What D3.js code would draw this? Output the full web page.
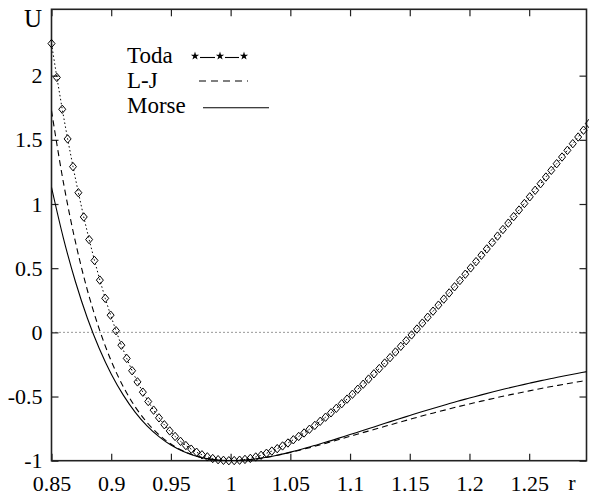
<!DOCTYPE html>
<html><head><meta charset="utf-8">
<script src="https://cdn.jsdelivr.net/npm/d3@7"></script>
<style>
html,body{margin:0;padding:0;background:#fff;}
svg, svg text{font-family:'Liberation Serif','Times New Roman','DejaVu Serif',serif !important;}
</style></head>
<body>
<script>
// ---- data ----
const xTickValues = [0.85,0.9,0.95,1,1.05,1.1,1.15,1.2,1.25];
const xTickLabels = ["0.85","0.9","0.95","1","1.05","1.1","1.15","1.2","1.25"];
const yTickValues = [-1,-0.5,0,0.5,1,1.5,2];
const yTickLabels = ["-1","-0.5","0","0.5","1","1.5","2"];

const rCurve = [0.85,0.86,0.87,0.88,0.89,0.90,0.91,0.92,0.93,0.94,0.95,0.96,0.97,0.98,0.99,1.00,
  1.01,1.02,1.03,1.04,1.05,1.06,1.07,1.08,1.09,1.10,1.11,1.12,1.13,1.14,1.15,1.16,1.17,1.18,1.19,1.20,
  1.21,1.22,1.23,1.24,1.25,1.26,1.27,1.28,1.29,1.30];
const ljU = [1.727,1.166,0.706,0.330,0.025,-0.223,-0.421,-0.579,-0.702,-0.798,-0.870,-0.923,-0.960,-0.983,-0.996,-1.000,
  -0.997,-0.988,-0.974,-0.956,-0.936,-0.913,-0.889,-0.863,-0.837,-0.810,-0.783,-0.757,-0.730,-0.704,-0.678,-0.652,-0.628,-0.604,-0.580,-0.558,
  -0.536,-0.515,-0.494,-0.475,-0.456,-0.437,-0.420,-0.403,-0.387,-0.371];
const morseU = [1.130,0.733,0.396,0.112,-0.126,-0.324,-0.487,-0.621,-0.728,-0.812,-0.878,-0.926,-0.961,-0.984,-0.996,-1.000,
  -0.997,-0.987,-0.973,-0.955,-0.933,-0.909,-0.882,-0.855,-0.826,-0.796,-0.767,-0.737,-0.707,-0.677,-0.648,-0.619,-0.591,-0.564,-0.537,-0.512,
  -0.487,-0.463,-0.440,-0.418,-0.397,-0.376,-0.357,-0.338,-0.320,-0.303];

const rToda = [0.85,0.8545,0.859,0.8635,0.868,0.8725,0.877,0.8815,0.886,0.8905,
  0.895,0.8995,0.904,0.9085,0.913,0.9175,0.922,0.9265,0.931,0.9355,
  0.94,0.9445,0.949,0.9535,0.958,0.9625,0.967,0.9715,0.976,0.9805,
  0.985,0.9895,0.994,0.9985,1.003,1.0075,1.012,1.0165,1.021,1.0255,
  1.03,1.0345,1.039,1.0435,1.048,1.0525,1.057,1.0615,1.066,1.0705,
  1.075,1.0795,1.084,1.0885,1.093,1.0975,1.102,1.1065,1.111,1.1155,
  1.12,1.1245,1.129,1.1335,1.138,1.1425,1.147,1.1515,1.156,1.1605,
  1.165,1.1695,1.174,1.1785,1.183,1.1875,1.192,1.1965,1.201,1.2055,
  1.21,1.2145,1.219,1.2235,1.228,1.2325,1.237,1.2415,1.246,1.2505,
  1.255,1.2595,1.264,1.2685,1.273,1.2775,1.282,1.2865,1.291,1.2955,
  1.3];
const todaU = [2.250,1.986,1.738,1.507,1.291,1.088,0.899,0.723,0.560,0.407,
  0.265,0.134,0.013,-0.100,-0.203,-0.299,-0.386,-0.466,-0.539,-0.606,
  -0.666,-0.720,-0.768,-0.811,-0.849,-0.882,-0.910,-0.934,-0.954,-0.970,
  -0.983,-0.992,-0.997,-1.000,-0.999,-0.996,-0.990,-0.982,-0.971,-0.958,
  -0.942,-0.925,-0.906,-0.885,-0.862,-0.837,-0.811,-0.784,-0.755,-0.725,
  -0.693,-0.661,-0.627,-0.592,-0.556,-0.520,-0.482,-0.443,-0.404,-0.364,
  -0.323,-0.282,-0.239,-0.197,-0.153,-0.109,-0.065,-0.020,0.026,0.072,
  0.118,0.165,0.212,0.259,0.307,0.355,0.404,0.453,0.502,0.551,
  0.601,0.650,0.700,0.750,0.801,0.851,0.902,0.953,1.004,1.056,
  1.107,1.158,1.210,1.262,1.314,1.366,1.418,1.470,1.522,1.575,
  1.627];

const legendNames = ["Toda","L-J","Morse"];

// ---- drawing ----
const W = 589, H = 497;
const L = 51.5, R = 586.5, T = 9.3, B = 460.7;
const x = d3.scaleLinear().domain([0.85, 1.298]).range([L, R]);
const y = d3.scaleLinear().domain([-1, 2.517]).range([B, T]);
const FONT = "'Liberation Serif','Times New Roman','DejaVu Serif',serif";

const svg = d3.select("body").append("svg").attr("width", W).attr("height", H)
  .style("font-family", FONT);

const fs = 22;
const tickLen = 7;

// zero line (dotted)
svg.append("line").attr("x1", L).attr("x2", R).attr("y1", y(0)).attr("y2", y(0))
  .attr("stroke", "#333").attr("stroke-width", 1).attr("stroke-dasharray", "1,3");

// axes with inward ticks on all four sides
const fmtX = (d,i) => xTickLabels[i];
const fmtY = (d,i) => yTickLabels[i];
const gB = svg.append("g").attr("transform", `translate(0,${B})`)
  .call(d3.axisBottom(x).tickValues(xTickValues).tickFormat(fmtX).tickSizeInner(-tickLen).tickSizeOuter(0).tickPadding(15));
const gT = svg.append("g").attr("transform", `translate(0,${T})`)
  .call(d3.axisTop(x).tickValues(xTickValues).tickFormat("").tickSizeInner(-tickLen).tickSizeOuter(0));
const gL = svg.append("g").attr("transform", `translate(${L},0)`)
  .call(d3.axisLeft(y).tickValues(yTickValues).tickFormat(fmtY).tickSizeInner(-tickLen).tickSizeOuter(0).tickPadding(9));
const gR = svg.append("g").attr("transform", `translate(${R},0)`)
  .call(d3.axisRight(y).tickValues(yTickValues).tickFormat("").tickSizeInner(-tickLen).tickSizeOuter(0));
[gB,gT,gL,gR].forEach(g => {
  g.attr("font-family", null).style("font-family", FONT);
  g.select(".domain").remove();
  g.selectAll(".tick line").attr("stroke", "#222").attr("stroke-width", 1.2);
  g.selectAll("text").style("font-family", FONT).attr("font-size", fs).attr("fill", "#000");
});
gB.selectAll("text").attr("dy", null).attr("y", 30);
gL.selectAll("text").attr("dy", "0.32em");

// border
svg.append("rect").attr("x", L).attr("y", T).attr("width", R - L).attr("height", B - T)
  .attr("fill", "none").attr("stroke", "#222").attr("stroke-width", 1.6);

// axis titles
svg.append("text").attr("x", 42).attr("y", 27).attr("text-anchor", "end")
  .attr("font-size", 25).text("U");
svg.append("text").attr("x", 572).attr("y", 490).attr("text-anchor", "middle")
  .attr("font-size", fs).text("r");

// clip for curves
svg.append("clipPath").attr("id", "clip").append("rect")
  .attr("x", L).attr("y", T).attr("width", R - L).attr("height", B - T);

const curveLine = d3.line().x(d => x(d[0])).y(d => y(d[1])).curve(d3.curveCatmullRom.alpha(0.5));
const ljData = rCurve.map((r,i) => [r, ljU[i]]);
const morseData = rCurve.map((r,i) => [r, morseU[i]]);
const todaData = rToda.map((r,i) => [r, todaU[i]]);

const plot = svg.append("g").attr("clip-path", "url(#clip)");
plot.append("path").attr("d", curveLine(morseData)).attr("fill", "none")
  .attr("stroke", "#000").attr("stroke-width", 1.1);
plot.append("path").attr("d", curveLine(ljData)).attr("fill", "none")
  .attr("stroke", "#000").attr("stroke-width", 1.1).attr("stroke-dasharray", "6,4");
plot.append("path").attr("d", d3.line().x(d => x(d[0])).y(d => y(d[1]))(todaData)).attr("fill", "none")
  .attr("stroke", "#000").attr("stroke-width", 1).attr("stroke-dasharray", "1.5,2.5");

// diamonds
const dia = "M0,-4.2L3.5,0L0,4.2L-3.5,0Z";
svg.append("g").selectAll("path").data(todaData).join("path")
  .attr("d", dia).attr("transform", d => `translate(${x(d[0])},${y(d[1])})`)
  .attr("fill", "none").attr("stroke", "#000").attr("stroke-width", 1);

// legend
const lg = svg.append("g");
const legY = [63, 88, 113];
lg.selectAll("text").data(legendNames).join("text")
  .attr("x", 127).attr("y", (d,i) => legY[i]).attr("font-size", 23).text(d => d);
// Toda sample: stars with dashes
const starX = [195, 220, 244];
lg.selectAll("path.star").data(starX).join("path").attr("class", "star")
  .attr("d", d3.symbol().type(d3.symbolStar).size(22))
  .attr("transform", d => `translate(${d},56)`).attr("fill", "#000");
lg.append("line").attr("x1", 200).attr("x2", 215).attr("y1", 57.5).attr("y2", 57.5).attr("stroke", "#000").attr("stroke-width", 1.1);
lg.append("line").attr("x1", 225).attr("x2", 239).attr("y1", 57.5).attr("y2", 57.5).attr("stroke", "#000").attr("stroke-width", 1.1);
// L-J sample
lg.append("line").attr("x1", 199).attr("x2", 248).attr("y1", 81).attr("y2", 81)
  .attr("stroke", "#000").attr("stroke-width", 1.1).attr("stroke-dasharray", "7,5");
// Morse sample
lg.append("line").attr("x1", 203).attr("x2", 269).attr("y1", 107.7).attr("y2", 107.7)
  .attr("stroke", "#000").attr("stroke-width", 1.1);
</script>
</body></html>
